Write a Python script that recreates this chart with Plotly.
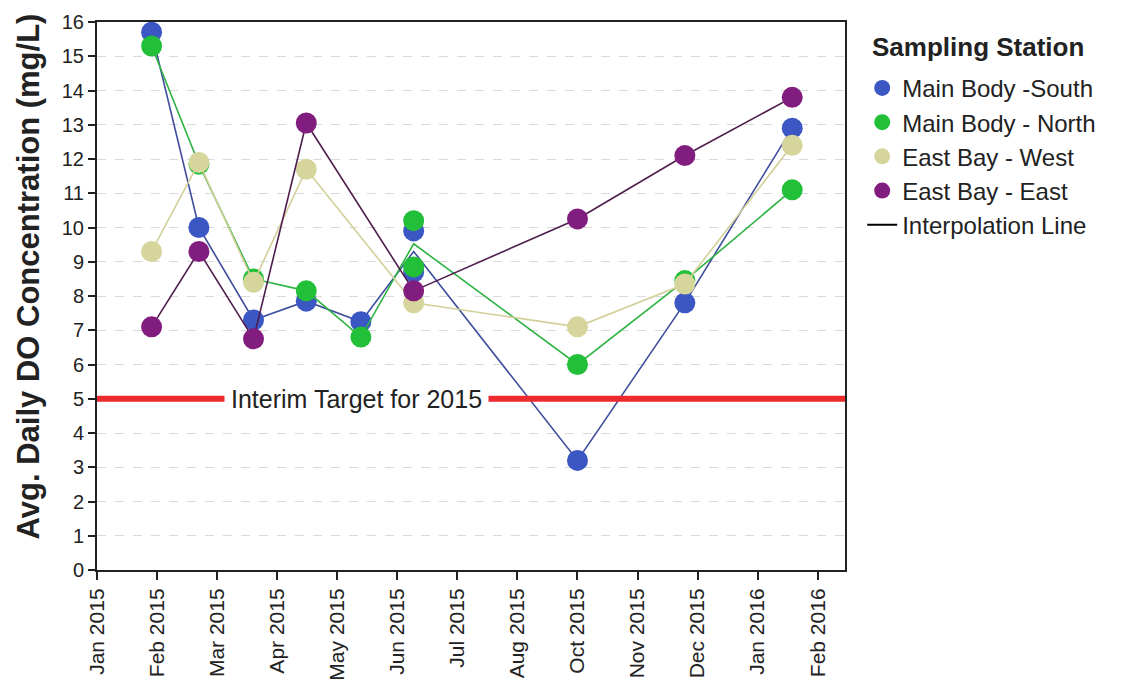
import pandas as pd
import plotly.graph_objects as go

# sampling dates (two samples were taken on the June date)
SAMPLE_DATES = ["2015-01-31", "2015-02-26", "2015-03-28", "2015-04-26", "2015-05-26",
                "2015-06-24", "2015-06-24", "2015-09-22", "2015-11-20", "2016-01-18"]

MB_SOUTH = [15.7, 10.0, 7.3, 7.85, 7.25, 9.9, 8.7, 3.2, 7.8, 12.9]
MB_NORTH = [15.3, 11.85, 8.5, 8.15, 6.8, 10.2, 8.85, 6.0, 8.45, 11.1]
EB_WEST = [9.3, 11.9, 8.4, 11.7, None, 7.8, None, 7.1, 8.35, 12.4]
EB_EAST = [7.1, 9.3, 6.75, 13.05, None, 8.15, None, 10.25, 12.1, 13.8]

STATIONS = ["Main Body -South", "Main Body - North", "East Bay - West", "East Bay - East"]
MARKER_COLORS = ["#3a57c4", "#22bf38", "#d6d59c", "#821d80"]
LINE_COLORS = ["#3f4d9c", "#2fb344", "#d2cf98", "#4e1d4c"]

TICK_LABELS = ["Jan 2015", "Feb 2015", "Mar 2015", "Apr 2015", "May 2015", "Jun 2015",
               "Jul 2015", "Aug 2015", "Oct 2015", "Nov 2015", "Dec 2015", "Jan 2016",
               "Feb 2016"]
TARGET = 5
FONT = "Liberation Sans, Arial, sans-serif"

tick_dates = pd.date_range("2015-01-01", "2016-02-01", periods=len(TICK_LABELS))

df = pd.DataFrame({"date": pd.to_datetime(SAMPLE_DATES)})
for name, vals in zip(STATIONS, [MB_SOUTH, MB_NORTH, EB_WEST, EB_EAST]):
    df[name] = vals

fig = go.Figure()

for name, mc, lc in zip(STATIONS, MARKER_COLORS, LINE_COLORS):
    # interpolation line goes through the mean of each sampling date
    mean_line = df.groupby("date", as_index=False)[name].mean().dropna()
    fig.add_trace(go.Scatter(
        x=mean_line["date"], y=mean_line[name], mode="lines",
        line=dict(color=lc, width=1.6), showlegend=False, hoverinfo="skip",
    ))
    pts = df[["date", name]].dropna()
    fig.add_trace(go.Scatter(
        x=pts["date"], y=pts[name], mode="markers", name=name,
        marker=dict(color=mc, size=21, line=dict(width=0)),
    ))

fig.add_trace(go.Scatter(
    x=[None], y=[None], mode="lines", name="Interpolation Line",
    line=dict(color="black", width=2),
))

fig.add_shape(type="line", xref="paper", x0=0, x1=1, yref="y", y0=TARGET, y1=TARGET,
              line=dict(color="#ef2a2e", width=6), layer="above")
fig.add_annotation(
    xref="paper", x=0.347, yref="y", y=TARGET, text="Interim Target for 2015",
    showarrow=False, font=dict(family=FONT, size=25, color="#222"),
    bgcolor="white", borderpad=6,
)
# legend heading, placed separately to get the same gap as the original
fig.add_annotation(
    xref="paper", x=1.034, xanchor="left", yref="paper", y=0.955, yanchor="middle",
    text="<b>Sampling Station</b>", showarrow=False,
    font=dict(family=FONT, size=26, color="#222"),
)
# y axis title as annotation so it sits a little above the plot centre
fig.add_annotation(
    xref="paper", x=-0.092, xanchor="center", yref="paper", y=0.536, yanchor="middle",
    text="<b>Avg. Daily DO Concentration (mg/L)</b>", textangle=-90, showarrow=False,
    font=dict(family=FONT, size=31, color="#222"),
)

fig.update_layout(
    width=1123, height=698,
    margin=dict(l=89, r=286, t=14, b=136),
    plot_bgcolor="white", paper_bgcolor="white",
    font=dict(family=FONT, color="#222"),
    legend=dict(
        x=1.023, xanchor="left", y=0.92, yanchor="top",
        font=dict(size=24, family=FONT, color="#222"),
        bgcolor="rgba(0,0,0,0)",
    ),
)

fig.update_xaxes(
    type="date", range=["2015-01-01", "2016-02-16"], automargin=False,
    tickvals=tick_dates, ticktext=TICK_LABELS, tickangle=-90,
    tickfont=dict(size=21, family=FONT, color="#222"),
    ticks="outside", ticklen=8, tickwidth=1.5, tickcolor="#222",
    showline=True, linecolor="#222", linewidth=2, mirror=True,
    showgrid=False, zeroline=False, ticklabeloverflow="allow",
)
fig.update_yaxes(
    range=[0, 16], dtick=1, automargin=False,
    tickfont=dict(size=20, family=FONT, color="#222"),
    ticks="outside", ticklen=7, tickwidth=1.5, tickcolor="#222",
    showline=True, linecolor="#222", linewidth=2, mirror=True,
    showgrid=True, gridcolor="#dadada", griddash="dash", gridwidth=1,
    zeroline=False, ticklabeloverflow="allow",
)

fig.write_html("out.html")
